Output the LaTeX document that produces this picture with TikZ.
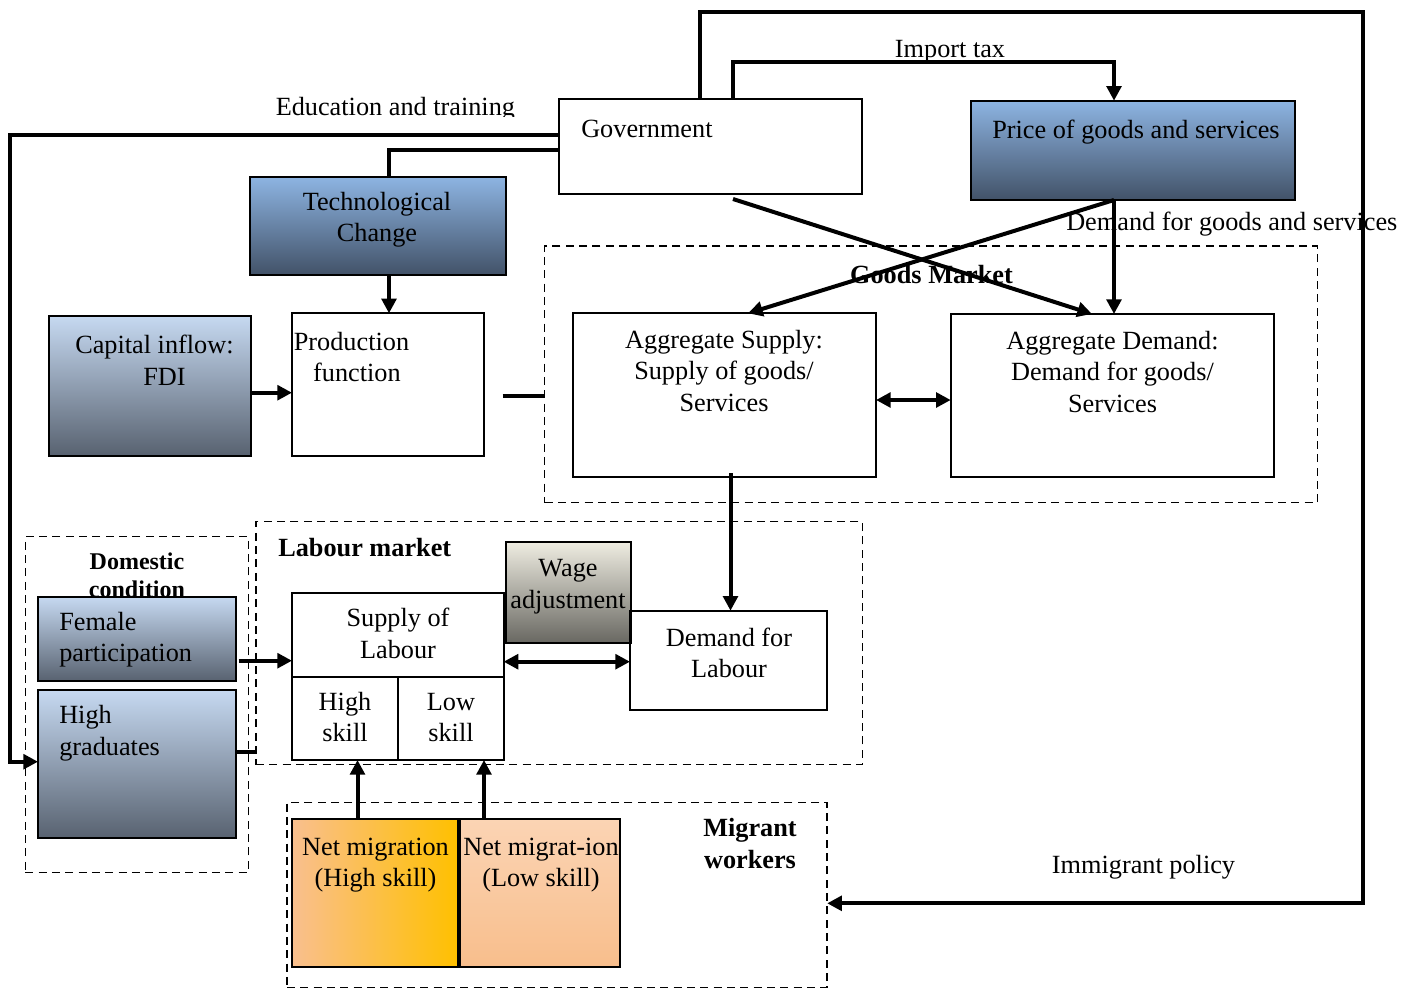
\documentclass[tikz,border=0pt]{standalone}
\usepackage{fontspec}
\setmainfont{Liberation Serif}
\usetikzlibrary{arrows.meta,fit}
\definecolor{dkT}{RGB}{141,180,226}
\definecolor{dkB}{RGB}{66,82,104}
\definecolor{ltT}{RGB}{198,217,241}
\definecolor{ltB}{RGB}{88,98,112}
\definecolor{wgT}{RGB}{238,236,225}
\definecolor{wgB}{RGB}{105,104,98}
\definecolor{orL}{RGB}{249,191,143}
\definecolor{orR}{RGB}{255,192,0}
\definecolor{peT}{RGB}{251,212,180}
\definecolor{peB}{RGB}{248,190,140}
\newcommand\basefont{\fontsize{19.7}{23.6}\selectfont}
\begin{document}
\begin{tikzpicture}[x=0.75pt,y=-0.75pt,
  font=\basefont,
  >={Triangle[length=11pt,width=11pt]},
  box/.style={draw, line width=1.5pt, inner sep=0pt, outer sep=0pt},
  grp/.style={draw, line width=1.1pt, dash pattern=on 6pt off 4pt, inner sep=0pt, outer sep=0pt},
  darkshade/.style={box, top color=dkT, bottom color=dkB},
  lightshade/.style={box, top color=ltT, bottom color=ltB},
  greyshade/.style={box, top color=wgT, bottom color=wgB},
  conn/.style={line width=3pt, ->},
  link/.style={line width=3pt},
  both/.style={line width=3pt, <->},
  lbl/.style={inner sep=0pt, anchor=base, align=center},
  lbll/.style={inner sep=0pt, anchor=base west, align=left},
  bold/.style={font=\basefont\bfseries}
]
\useasboundingbox (0,0) rectangle (1419,989);

% dashed groups
\node[grp, fit={(544.7,246) (1317.5,502.7)}] (goods) {};
\node[grp, fit={(256,521.7) (862.3,764.7)}] (labour) {};
\node[grp, fit={(25.3,536.7) (248.3,872.3)}] (domestic) {};
\node[grp, fit={(287,802.3) (827.2,987.3)}] (migrant) {};

% free labels (multi-line nodes: position = baseline of last line)
\begin{scope}
\clip (260,80) rectangle (540,116.5);
\node[lbll] (edu) at (275.5,115) {Education and training};
\end{scope}
\node[lbl] (imptax) at (950,57) {Import tax};
\node[lbll] (dgs) at (1066,230) {Demand for goods and services};
\node[lbl, bold] (gmk) at (931.5,283) {Goods Market};
\node[lbll, bold] (lmk) at (278,556.7) {Labour market};
\node[lbl, font=\fontsize{18}{21.5}\selectfont\bfseries] (dom) at (137,597.7) {Domestic\\condition};
\node[lbl, bold] (mig) at (750,868.3) {Migrant\\workers};
\node[lbl] (ipol) at (1143.5,873.3) {Immigrant policy};

% boxes
\node[box, fit={(559,98.7) (861.5,194)}] (gov) {};
\node[darkshade, fit={(970.6,100.7) (1295,200)}] (price) {};
\node[darkshade, fit={(250,177) (506,275)}] (tech) {};
\node[lightshade, fit={(49,316) (250.7,455.7)}] (cap) {};
\node[box, fit={(292,313.3) (484,455.7)}] (prod) {};
\node[box, fit={(573,313.3) (876,476.7)}] (asup) {};
\node[box, fit={(950.7,314) (1273.7,476.7)}] (adem) {};
\node[greyshade, fit={(506,542.3) (630.7,642.7)}] (wage) {};
\node[box, fit={(630,610.7) (827.3,710)}] (dl) {};
\node[box, fit={(292,592.7) (503.6,676.7)}] (sl) {};
\node[box, fit={(292,676.7) (397.5,760)}] (hs) {};
\node[box, fit={(397.5,676.7) (503.6,760)}] (ls) {};
\node[lightshade, fit={(38,596.7) (235.7,681)}] (fem) {};
\node[lightshade, fit={(38,690) (235.7,838.3)}] (hg) {};
\node[box, left color=orL, right color=orR, fit={(291.6,819) (457.5,966.7)}] (nmh) {};
\node[box, top color=peT, bottom color=peB, fit={(459.8,819) (620,966.7)}] (nml) {};

% box texts
\node[lbll] (govt) at (581,137) {Government};
\node[lbll] (pricet) at (992,138) {Price of goods and services};
\node[lbl] (techt) at (377,241.7) {Technological\\Change};
\node[lbll] (capt) at (75,385) {Capital inflow:\\\hspace*{51pt}FDI};
\node[lbll] (prodt) at (293.6,381.7) {Production\\\hspace*{14.5pt}function};
\node[lbl] (ast) at (724,411) {Aggregate Supply:\\Supply of goods/\\Services};
\node[lbl] (adt) at (1112.5,412) {Aggregate Demand:\\Demand for goods/\\Services};
\node[lbl] (waget) at (568,608) {Wage\\adjustment};
\node[lbl] (dlt) at (729,677.7) {Demand for\\Labour};
\node[lbl] (slt) at (398,658) {Supply of\\Labour};
\node[lbl] (hst) at (345,741.7) {High\\skill};
\node[lbl] (lst) at (451,741.7) {Low\\skill};
\node[lbll] (femt) at (59,661.7) {Female\\participation};
\node[lbll] (hgt) at (59,755) {High\\graduates};
\node[lbl] (nmht) at (375.5,886.7) {Net migration\\(High skill)};
\node[lbl] (nmlt) at (541,886.7) {Net migrat-ion\\(Low skill)};

% free ends
\coordinate (pstub) at (502.5,396);
\coordinate (gx) at (733,199);
\coordinate (asx) at (730.5,473);
\coordinate (femx) at (238.6,660.7);

% connectors
\draw[conn] (gov.west |- 0,135) -- (10,135) -- (10,761.7) -- (hg.west |- 0,761.7);
\draw[link] (gov.west |- 0,150) -| (389,0 |- tech.north);
\draw[conn] (389,0 |- tech.south) -- (389,0 |- prod.north);
\draw[conn] (cap.east |- 0,392.7) -- (prod.west |- 0,392.7);
\draw[link] (pstub) -- (goods.west |- pstub);
\draw[conn] (700,0 |- gov.north) -- (700,12) -- (1363,12) -- (1363,903.3) -- (migrant.east |- 0,903.3);
\draw[conn] (733,0 |- gov.north) -- (733,62) -| (1114,0 |- price.north);
\draw[conn] (gx) -- (1092,0 |- adem.north);
\draw[conn] (1114,0 |- price.south) -- (748,0 |- asup.north);
\draw[conn] (1114,0 |- price.south) -- (1114,0 |- adem.north);
\draw[both] (asup.east |- 0,400) -- (adem.west |- 0,400);
\draw[conn] (asx) -- (asx |- dl.north);
\draw[conn] (femx) -- (sl.west |- femx);
\draw[link] (hg.east |- 0,751.7) -- (labour.west |- 0,751.7);
\draw[both] (sl.east |- 0,661.7) -- (dl.west |- 0,661.7);
\draw[conn] (357.5,0 |- nmh.north) -- (357.5,0 |- hs.south);
\draw[conn] (484,0 |- nml.north) -- (484,0 |- ls.south);
\end{tikzpicture}
\end{document}
